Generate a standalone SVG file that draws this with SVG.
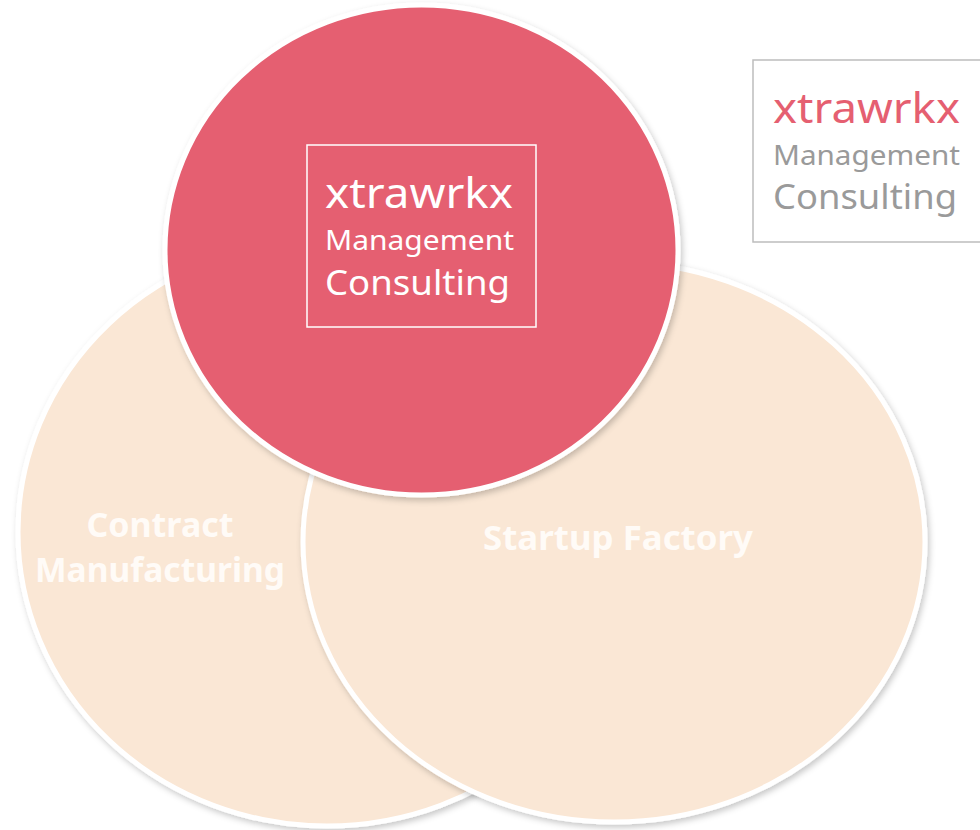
<svg xmlns="http://www.w3.org/2000/svg" width="980" height="830" viewBox="0 0 980 830">
  <defs>
    <filter id="shadow" x="-10%" y="-10%" width="120%" height="120%">
      <feDropShadow dx="2" dy="3" stdDeviation="3" flood-color="#000" flood-opacity="0.22"/>
    </filter>
  </defs>
  <style>
    .peach { fill: #FAE7D5; stroke: #ffffff; stroke-width: 5; }
    .red { fill: #E55F71; stroke: #ffffff; stroke-width: 5; }
    .lbl { font-family: "Noto Sans", "Open Sans", sans-serif; font-weight: 700; font-size: 34px; fill: #FFFBF7; text-anchor: middle; }
    .logo { font-family: "Noto Sans", "Open Sans", sans-serif; font-weight: 400; }
    .l1 { font-size: 41px; }
    .l2 { font-size: 27px; }
    .l3 { font-size: 35px; }
  </style>
  <rect width="980" height="830" fill="#ffffff"/>

  <g id="contract-manufacturing">
    <ellipse class="peach" cx="327" cy="532" rx="309" ry="294" filter="url(#shadow)"/>
    <text class="lbl" x="160" y="537">Contract</text>
    <text class="lbl" x="160" y="582" textLength="250" lengthAdjust="spacingAndGlyphs">Manufacturing</text>
  </g>

  <g id="startup-factory">
    <ellipse class="peach" cx="614" cy="542" rx="311" ry="280" filter="url(#shadow)"/>
    <text class="lbl" x="618" y="550" textLength="270" lengthAdjust="spacingAndGlyphs">Startup Factory</text>
  </g>

  <g id="management-consulting">
    <ellipse class="red" cx="421.5" cy="250" rx="256.5" ry="245" filter="url(#shadow)"/>
    <rect x="307" y="145" width="229" height="182" fill="none" stroke="#ffffff" stroke-width="1.5"/>
    <text class="logo l1" x="325" y="208" fill="#ffffff" textLength="188" lengthAdjust="spacingAndGlyphs">xtrawrkx</text>
    <text class="logo l2" x="325" y="249.5" fill="#ffffff" textLength="189" lengthAdjust="spacingAndGlyphs">Management</text>
    <text class="logo l3" x="325" y="295" fill="#ffffff" textLength="185" lengthAdjust="spacingAndGlyphs">Consulting</text>
  </g>

  <g id="logo-box">
    <rect x="753" y="60" width="240" height="182" fill="#ffffff" stroke="#BDBDBD" stroke-width="1.5"/>
    <text class="logo l1" x="773" y="123" fill="#E55F71" textLength="187" lengthAdjust="spacingAndGlyphs">xtrawrkx</text>
    <text class="logo l2" x="773" y="164.5" fill="#9A9A9A" textLength="187" lengthAdjust="spacingAndGlyphs">Management</text>
    <text class="logo l3" x="773" y="209" fill="#9A9A9A" textLength="184" lengthAdjust="spacingAndGlyphs">Consulting</text>
  </g>
</svg>
